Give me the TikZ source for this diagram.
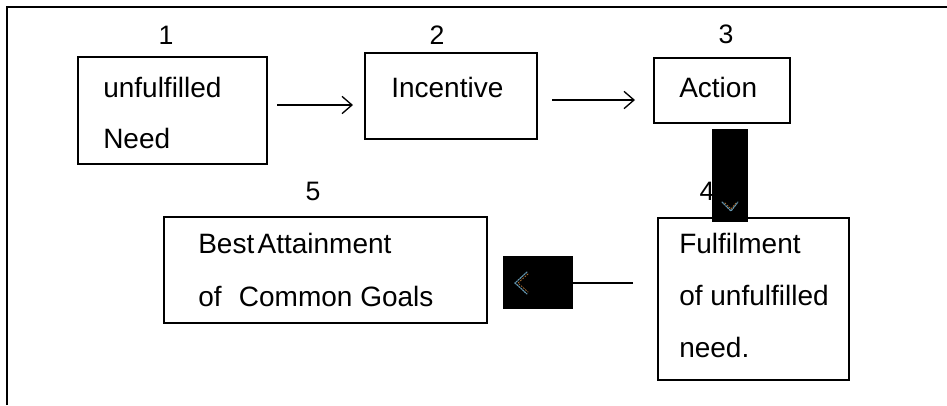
\documentclass[tikz,border=0pt]{standalone}
\usepackage{fontspec}
\setmainfont{Liberation Sans}
\usetikzlibrary{arrows.meta,fit,calc}
\begin{document}
\begin{tikzpicture}[x=0.75pt,y=-0.75pt,
  box/.style={draw=black,line width=1.5pt,inner sep=0pt,rectangle},
  blk/.style={fill=black,draw=none,inner sep=0pt,rectangle},
  txt/.style={inner sep=0pt,anchor=base west,font=\fontsize{21}{25}\selectfont},
  num/.style={inner sep=0pt,anchor=base,font=\fontsize{20}{24}\selectfont},
  arr/.style={line width=1pt,-{Straight Barb[length=7.5pt,width=13pt,line width=1pt]}},
  conn/.style={line width=1.5pt},
  glint/.style={line width=0.9pt,color={rgb,255:red,100;green,150;blue,175},line cap=round,dash pattern=on 1.2pt off 0.8pt},
  glintb/.style={line width=0.6pt,color={rgb,255:red,170;green,110;blue,50},line cap=round,dash pattern=on 1pt off 1.2pt}]
\useasboundingbox (0,0) rectangle (947,405);
\fill[white] (0,0) rectangle (947,405);
% outer frame (open at right and bottom)
\draw[line width=1.6pt] (7,405) -- (7,7) -- (947,7);

% step boxes
\node[box,fit={(78,57) (267,164)}] (b1) {};
\node[box,fit={(365,53) (537,139)}] (b2) {};
\node[box,fit={(654,58) (790,123)}] (b3) {};
\node[box,fit={(658,218) (849,380)}] (b4) {};
\node[box,fit={(164,217) (487,323)}] (b5) {};

% step numbers
\node[num] (n1) at (166,44) {1};
\node[num] (n2) at (437,44) {2};
\node[num] (n3) at (726,43) {3};
\node[num] (n4) at (707,200) {4};
\node[num] (n5) at (313,200) {5};

% box texts
\node[txt] (t1a) at (103,97) {unfulfilled};
\node[txt] (t1b) at (103,148) {Need};
\node[txt] (t2) at (391,97) {Incentive};
\node[txt] (t3) at (679,97) {Action};
\node[txt] (t4a) at (679,253) {Fulfilment};
\node[txt] (t4b) at (679,305) {of unfulfilled};
\node[txt] (t4c) at (679,357) {need.};
\node[txt] (t5a) at (198,253) {Best\hspace{0.12em}Attainment};
\node[txt] (t5b) at (198,306) {of\hspace{0.62em}Common Goals};

% arrows along the top row
\coordinate (a1s) at (277,105);
\coordinate (a1e) at (353,105);
\coordinate (a2s) at (552,100);
\coordinate (a2e) at (635,100);
\draw[arr] (a1s) -- (a1e);
\draw[arr] (a2s) -- (a2e);

% blacked-out connector pieces with their faint arrowheads
\node[blk,fit={(712,129) (748,222)}] (k1) {};
\node[blk,fit={(503,256) (573,309)}] (k2) {};
\draw[glint] (722,202) -- (731,211) -- (738,202);
\draw[glintb] (725,203) -- (731,209) -- (736,203);
\draw[glint] (527,272) -- (515,283) -- (527,294);
\draw[glintb] (528,274) -- (518,283) -- (528,292);
\coordinate (c4) at (633,283);
\draw[conn] (c4) -- (k2.east |- c4);
\end{tikzpicture}
\end{document}
